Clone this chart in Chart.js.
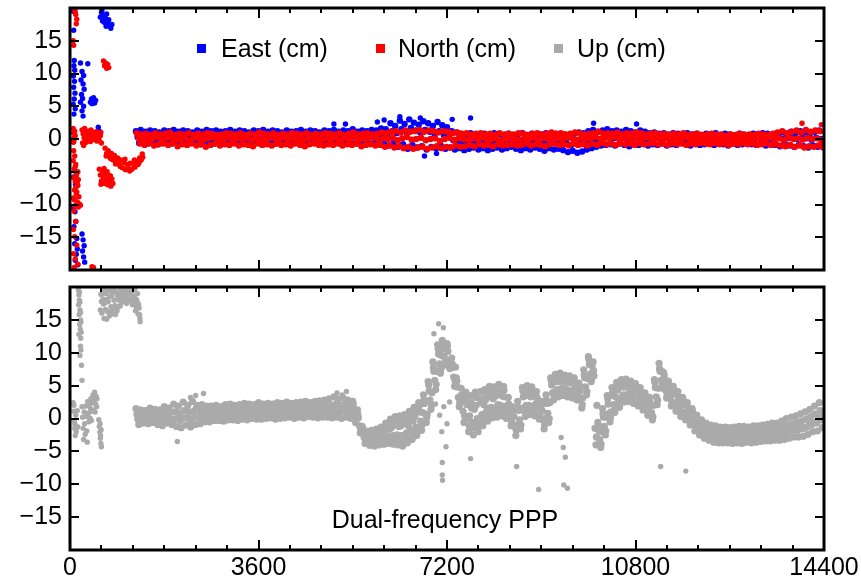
<!DOCTYPE html>
<html>
<head>
<meta charset="utf-8">
<script src="https://cdn.jsdelivr.net/npm/chart.js@4.4.1/dist/chart.umd.min.js"></script>
<style>
  body { margin: 0; background: #fff; }
  #wrap { position: relative; width: 861px; height: 582px; }
  canvas { position: absolute; left: 0; }
  #topChart { top: 0; }
  #bottomChart { top: 280px; }
</style>
</head>
<body>
<div id="wrap">
  <canvas id="topChart" width="861" height="280"></canvas>
  <canvas id="bottomChart" width="861" height="302"></canvas>
</div>
<script>
// Axis ticks
const xTicks = [0, 3600, 7200, 10800, 14400];
const yTicks = [-15, -10, -5, 0, 5, 10, 15];

// Series names and colours
const eastName = 'East (cm)';
const northName = 'North (cm)';
const upName = 'Up (cm)';
const eastColor = '#0000ff';
const northColor = '#ff0000';
const upColor = '#aaaaaa';

// Regular epochs (s) for the converged part, every 90 s from 1260 s
const epochStart = 1260;
const epochStep = 90;

// East: upper edge, middle, lower edge
const eastHi = [
  1.2, 1.4, 1.1, 1.3, 1.2, 1.0, 1.3, 1.2, 1.4, 1.1,
  1.3, 1.2, 1.0, 1.3, 1.1, 1.4, 1.2, 1.3, 1.1, 1.2,
  1.4, 1.1, 1.3, 1.2, 1.0, 1.3, 1.2, 1.4, 1.1, 1.3,
  1.2, 1.0, 1.3, 1.1, 1.2, 1.4, 1.1, 1.3, 1.2, 1.0,
  1.3, 1.2, 1.4, 1.1, 1.3, 1.2, 1.5, 1.1, 1.3, 1.2,
  1.4, 1.3, 1.6, 1.5, 2.4, 2.0, 2.8, 2.3, 3.0, 2.5,
  2.2, 2.7, 2.4, 2.0, 2.6, 2.1, 1.8, 1.2, 1.0, 0.8,
  0.6, 0.9, 0.7, 0.5, 0.8, 0.6, 0.9, 0.7, 0.5, 0.8,
  0.6, 0.7, 0.9, 0.6, 0.8, 0.5, 0.7, 0.9, 0.6, 0.8,
  0.5, 0.7, 0.6, 0.8, 1.0, 0.9, 1.2, 1.4, 1.1, 1.3,
  1.5, 1.2, 1.3, 1.1, 1.4, 1.2, 1.0, 1.3, 1.1, 0.9,
  1.0, 0.8, 0.9, 0.7, 0.9, 0.8, 0.6, 0.9, 0.7, 0.8,
  0.6, 0.8, 0.7, 0.9, 0.6, 0.8, 0.7, 0.5, 0.8, 0.7,
  0.6, 0.8, 0.7, 0.9, 0.8, 0.6, 0.9, 1.0, 0.8, 1.1,
  0.9, 1.2, 1.0, 0.8, 1.1, 1.3
];
const eastMid = [
  0.3, 0.5, 0.2, 0.4, 0.1, 0.3, 0.6, 0.2, 0.4, 0.3,
  0.2, 0.4, 0.5, 0.1, 0.3, 0.4, 0.2, 0.5, 0.3, 0.1,
  0.4, 0.3, 0.2, 0.5, 0.3, 0.4, 0.1, 0.3, 0.5, 0.2,
  0.3, 0.4, 0.2, 0.3, 0.5, 0.1, 0.4, 0.3, 0.2, 0.4,
  0.3, 0.5, 0.2, 0.4, 0.3, 0.1, 0.4, 0.5, 0.3, 0.2,
  0.4, 0.3, 0.6, 0.5, 1.2, 0.9, 1.5, 1.1, 1.7, 1.3,
  1.0, 1.4, 1.1, 0.8, 1.2, 0.6, 0.3, -0.2, -0.4, -0.3,
  -0.5, -0.3, -0.6, -0.4, -0.5, -0.7, -0.4, -0.6, -0.3, -0.5,
  -0.4, -0.6, -0.5, -0.3, -0.6, -0.4, -0.5, -0.7, -0.4, -0.6,
  -0.8, -0.6, -0.9, -0.7, -0.5, -0.6, -0.3, -0.1, 0.0, 0.2,
  0.3, 0.1, 0.4, 0.2, 0.0, 0.3, 0.1, 0.2, 0.0, 0.1,
  0.2, 0.0, 0.1, -0.1, 0.2, 0.0, 0.1, -0.1, 0.0, 0.2,
  0.1, -0.1, 0.0, 0.2, 0.1, -0.1, 0.0, 0.1, -0.1, 0.0,
  0.1, 0.0, 0.2, -0.1, 0.0, 0.1, 0.2, 0.0, 0.1, 0.2,
  0.0, 0.2, 0.1, -0.1, 0.2, 0.0
];
const eastLo = [
  -0.6, -0.4, -0.7, -0.5, -0.8, -0.6, -0.4, -0.7, -0.5, -0.6,
  -0.7, -0.5, -0.6, -0.8, -0.4, -0.6, -0.7, -0.5, -0.6, -0.8,
  -0.5, -0.7, -0.6, -0.4, -0.7, -0.5, -0.8, -0.6, -0.5, -0.7,
  -0.6, -0.4, -0.7, -0.6, -0.5, -0.8, -0.6, -0.5, -0.7, -0.6,
  -0.5, -0.7, -0.6, -0.8, -0.5, -0.6, -0.7, -0.4, -0.6, -0.7,
  -0.6, -0.8, -0.7, -1.0, -0.6, -1.2, -0.8, -1.5, -0.9, -1.3,
  -1.1, -1.6, -1.2, -1.4, -1.0, -1.5, -1.3, -1.6, -1.4, -1.7,
  -1.5, -1.3, -1.6, -1.4, -1.7, -1.5, -1.3, -1.6, -1.4, -1.2,
  -1.5, -1.7, -1.4, -1.6, -1.3, -1.5, -1.8, -1.4, -1.6, -1.5,
  -1.7, -2.0, -1.8, -2.1, -1.9, -1.6, -1.4, -1.2, -1.0, -0.9,
  -0.8, -1.0, -0.7, -0.9, -1.1, -0.8, -0.9, -0.7, -1.0, -0.8,
  -0.9, -0.7, -1.0, -0.8, -0.9, -0.6, -0.8, -1.0, -0.7, -0.9,
  -0.8, -0.7, -0.9, -0.6, -0.8, -1.0, -0.7, -0.9, -0.8, -0.6,
  -0.8, -0.9, -0.7, -1.0, -0.8, -0.9, -1.1, -0.8, -1.0, -1.2,
  -0.9, -1.1, -1.3, -1.0, -1.2, -1.1
];

// North, same epochs
const northHi = [
  0.9, 0.7, 0.8, 0.6, 0.9, 0.7, 0.8, 1.0, 0.6, 0.8,
  0.7, 0.9, 0.6, 0.8, 0.7, 0.9, 0.8, 0.6, 0.7, 0.9,
  0.8, 0.7, 0.9, 0.6, 0.8, 0.7, 1.0, 0.8, 0.7, 0.9,
  0.6, 0.8, 0.7, 0.9, 0.8, 0.7, 0.9, 0.6, 0.8, 0.7,
  0.9, 0.8, 0.7, 0.9, 0.6, 0.8, 1.0, 0.7, 0.8, 0.9,
  0.7, 0.8, 1.0, 0.9, 1.1, 1.2, 1.0, 1.3, 1.1, 1.2,
  1.4, 1.1, 1.3, 1.2, 1.0, 1.2, 1.1, 0.9, 1.0, 0.8,
  0.9, 0.7, 0.8, 0.9, 0.7, 0.8, 0.6, 0.9, 0.7, 0.8,
  0.7, 0.9, 0.8, 0.6, 0.8, 0.9, 0.7, 0.8, 1.0, 0.8,
  0.9, 0.7, 0.8, 1.0, 0.9, 0.7, 0.8, 0.9, 1.1, 0.8,
  0.9, 0.8, 1.0, 0.7, 0.9, 0.8, 1.0, 0.9, 0.7, 0.8,
  0.9, 0.7, 0.8, 0.6, 0.8, 0.7, 0.9, 0.6, 0.7, 0.8,
  0.6, 0.7, 0.8, 0.6, 0.7, 0.5, 0.7, 0.6, 0.8, 0.6,
  0.7, 0.6, 0.8, 0.7, 0.6, 0.8, 1.0, 1.2, 0.9, 1.1,
  1.3, 1.0, 1.4, 1.1, 1.3, 1.2
];
const northMid = [
  0.2, -0.1, 0.1, 0.0, 0.3, -0.2, 0.1, 0.2, -0.1, 0.0,
  0.1, -0.2, 0.2, 0.0, -0.1, 0.1, 0.3, -0.1, 0.0, 0.2,
  -0.1, 0.1, 0.0, 0.2, -0.2, 0.1, 0.0, -0.1, 0.2, 0.1,
  0.0, 0.2, -0.1, 0.1, 0.0, -0.2, 0.1, 0.2, 0.0, -0.1,
  0.1, 0.0, 0.2, -0.1, 0.1, 0.0, 0.2, -0.1, 0.0, 0.1,
  0.2, -0.1, 0.1, 0.0, 0.2, -0.2, 0.1, 0.3, -0.1, 0.0,
  0.2, -0.2, 0.0, 0.1, -0.3, 0.0, 0.2, -0.1, 0.1, 0.0,
  -0.1, 0.1, 0.0, 0.2, -0.1, 0.0, 0.1, -0.2, 0.0, 0.1,
  0.0, -0.1, 0.1, 0.0, 0.2, -0.1, 0.1, 0.0, 0.2, 0.1,
  0.0, 0.2, 0.1, -0.1, 0.2, 0.0, 0.1, 0.3, 0.0, 0.2,
  0.1, 0.3, 0.0, 0.2, 0.1, 0.0, 0.2, 0.1, 0.3, 0.0,
  0.2, 0.0, 0.1, -0.1, 0.1, 0.0, 0.2, -0.1, 0.0, 0.1,
  -0.1, 0.0, 0.1, -0.1, 0.0, 0.1, -0.2, 0.0, 0.1, -0.1,
  0.0, 0.1, -0.1, 0.0, 0.2, 0.0, 0.1, -0.1, 0.2, 0.0,
  0.1, -0.1, 0.2, 0.0, 0.1, -0.2
];
const northLo = [
  -0.7, -0.9, -0.6, -1.0, -0.8, -0.7, -0.9, -0.6, -1.1, -0.8,
  -0.9, -0.7, -1.0, -0.8, -1.2, -0.9, -0.7, -1.0, -0.8, -0.9,
  -0.7, -1.0, -0.8, -0.9, -1.1, -0.7, -0.9, -0.8, -1.0, -0.7,
  -0.9, -0.8, -1.0, -0.7, -0.9, -1.1, -0.8, -0.7, -0.9, -1.0,
  -0.8, -0.9, -0.7, -1.0, -0.8, -0.9, -0.7, -1.1, -0.9, -0.8,
  -1.0, -0.9, -1.2, -1.0, -1.3, -1.1, -1.4, -1.2, -1.5, -1.3,
  -1.2, -1.5, -1.3, -1.1, -1.4, -1.2, -1.3, -1.0, -1.2, -1.1,
  -0.9, -1.1, -0.8, -1.0, -0.9, -1.1, -0.8, -1.0, -0.9, -0.8,
  -1.0, -0.9, -0.7, -1.0, -0.8, -0.9, -1.1, -0.8, -0.7, -0.9,
  -0.8, -1.0, -0.7, -0.9, -0.8, -1.0, -0.7, -0.9, -0.6, -0.8,
  -0.7, -0.9, -0.6, -0.8, -0.7, -0.9, -0.6, -0.8, -0.7, -0.6,
  -0.8, -0.7, -0.9, -0.6, -0.8, -0.7, -0.9, -0.7, -0.8, -0.6,
  -0.7, -0.8, -0.6, -0.8, -0.7, -0.9, -0.7, -0.8, -0.6, -0.8,
  -0.7, -0.9, -0.8, -0.7, -0.9, -0.8, -1.0, -1.1, -0.9, -1.2,
  -1.0, -1.3, -1.1, -1.2, -1.0, -1.3
];

// Up, five readings across the band at each epoch
const upA = [
  1.5, 1.3, 1.2, 1.6, 1.4, 1.3, 1.8, 1.6, 2.2, 1.9,
  2.5, 2.0, 2.6, 2.0, 2.1, 1.9, 1.9, 2.0, 1.8, 2.1,
  2.2, 2.0, 2.1, 2.3, 2.2, 2.1, 2.4, 2.2, 2.3, 2.2,
  2.4, 2.3, 2.5, 2.3, 2.4, 2.5, 2.6, 2.4, 2.6, 2.7,
  2.8, 3.0, 3.3, 3.0, 3.1, 2.8, 2.6, 1.3, -1.2, -1.9,
  -1.8, -1.6, -1.3, -0.7, -0.1, 0.3, 0.4, 0.6, 1.1, 1.7,
  2.4, 3.6, 5.6, 8.6, 11.2, 11.9, 11.4, 9.2, 6.2, 4.6,
  4.0, 3.5, 4.0, 4.1, 4.4, 4.9, 4.8, 5.2, 4.9, 3.2,
  1.6, 2.6, 4.7, 5.0, 4.8, 4.1, 2.6, 3.6, 6.2, 6.7,
  6.9, 6.6, 6.5, 6.2, 5.4, 7.4, 9.4, 8.6, -0.6, 1.5,
  3.5, 4.7, 5.5, 5.9, 6.0, 5.7, 5.3, 4.7, 3.9, 3.2,
  5.9, 8.4, 6.9, 5.7, 4.9, 4.1, 3.2, 2.4, 1.5, 0.5,
  -0.2, -0.7, -1.0, -1.1, -1.3, -1.3, -1.4, -1.3, -1.2, -1.2,
  -1.3, -1.1, -1.1, -1.0, -0.9, -0.7, -0.7, -0.4, 0.0, 0.2,
  0.4, 0.7, 1.0, 1.4, 1.9, 2.4
];
const upB = [
  0.6, 0.9, 0.5, 0.7, 0.8, 0.6, 0.8, 0.9, 1.0, 0.7,
  1.2, 0.9, 1.1, 1.2, 1.2, 1.0, 1.2, 1.3, 1.1, 1.2,
  1.4, 1.2, 1.5, 1.3, 1.5, 1.4, 1.4, 1.6, 1.6, 1.5,
  1.5, 1.7, 1.7, 1.6, 1.8, 1.6, 1.8, 1.7, 1.8, 1.9,
  1.9, 2.0, 2.1, 2.0, 2.1, 1.9, 1.5, 0.1, -2.0, -2.6,
  -2.7, -2.4, -2.1, -1.7, -1.4, -1.0, -1.1, -0.8, -0.2, 0.3,
  1.0, 2.3, 4.2, 7.2, 9.8, 10.6, 10.2, 7.8, 4.8, 2.9,
  2.1, 1.6, 2.0, 2.4, 2.8, 3.3, 3.4, 3.6, 3.3, 1.7,
  0.3, 1.2, 3.3, 3.5, 3.4, 2.7, 1.2, 2.3, 5.1, 5.6,
  5.8, 5.6, 5.4, 5.1, 4.2, 6.2, 8.2, 6.5, -1.8, 0.2,
  2.2, 3.5, 4.3, 4.8, 4.9, 4.6, 4.2, 3.6, 2.8, 2.1,
  4.7, 7.2, 5.7, 4.5, 3.7, 2.9, 2.1, 1.3, 0.4, -0.5,
  -1.1, -1.6, -1.8, -1.9, -2.1, -2.0, -2.2, -2.1, -2.1, -2.0,
  -2.1, -2.0, -1.9, -1.8, -1.8, -1.6, -1.5, -1.3, -1.0, -0.8,
  -0.6, -0.4, -0.1, 0.3, 0.7, 1.2
];
const upC = [
  -0.1, 0.1, -0.3, 0.0, -0.2, -0.3, 0.1, 0.0, -0.1, -0.3,
  0.1, -0.1, 0.2, 0.1, 0.3, 0.4, 0.4, 0.5, 0.4, 0.6,
  0.6, 0.5, 0.7, 0.6, 0.8, 0.6, 0.8, 0.7, 0.9, 0.7,
  0.9, 0.8, 1.0, 0.8, 0.9, 1.0, 1.0, 0.9, 1.0, 1.0,
  1.1, 1.0, 1.1, 1.0, 1.2, 0.9, 0.4, -1.1, -2.9, -3.4,
  -3.3, -3.2, -3.0, -2.7, -2.6, -2.5, -2.6, -2.2, -1.8, -1.3,
  -0.4, 0.7, 2.8, 5.8, 8.3, 9.4, 8.8, 6.3, 3.2, 1.1,
  0.0, -0.6, 0.0, 0.6, 1.2, 1.7, 1.6, 2.0, 1.7, 0.3,
  -1.3, -0.2, 1.7, 2.0, 1.8, 1.3, -0.2, 0.8, 3.9, 4.4,
  4.6, 4.4, 4.2, 3.9, 2.8, 4.8, 6.8, -1.5, -3.2, -1.2,
  0.8, 2.1, 2.9, 3.6, 3.7, 3.4, 3.0, 2.4, 1.6, 0.9,
  3.3, 5.8, 4.3, 3.1, 2.3, 1.5, 0.9, 0.1, -0.8, -1.5,
  -2.1, -2.4, -2.8, -2.9, -2.9, -3.0, -3.0, -2.9, -2.9, -2.8,
  -2.9, -2.8, -2.7, -2.6, -2.6, -2.4, -2.5, -2.3, -2.0, -1.8,
  -1.8, -1.6, -1.3, -0.9, -0.7, -0.2
];
const upD = [
  -0.9, -0.7, -0.8, -0.6, -0.9, -1.1, -0.7, -0.9, -1.2, -1.4,
  -1.0, -1.3, -0.9, -0.8, -0.5, -0.5, -0.3, -0.3, -0.4, -0.2,
  -0.2, -0.3, -0.1, -0.2, 0.0, -0.1, -0.1, 0.0, 0.1, -0.1,
  0.0, 0.1, 0.2, 0.0, 0.2, 0.1, 0.3, 0.2, 0.1, 0.2,
  0.2, 0.1, 0.2, 0.0, 0.2, 0.0, -0.6, -2.2, -3.8, -4.1,
  -4.2, -4.0, -3.9, -3.8, -3.9, -4.0, -4.2, -3.7, -3.2, -2.6,
  -1.8, -0.6, 1.4, 4.4, 6.9, 8.1, 7.6, 4.9, 1.8, -0.6,
  -2.0, -2.5, -2.0, -1.1, -0.4, 0.1, 0.2, 0.4, 0.0, -1.1,
  -2.6, -1.6, 0.3, 0.6, 0.4, -0.1, -1.6, -0.6, 2.8, 3.3,
  3.5, 3.3, 3.1, 2.8, 1.6, 3.6, 5.6, -4.0, -4.4, -2.5,
  -0.5, 0.9, 1.7, 2.5, 2.6, 2.3, 1.9, 1.3, 0.5, -0.2,
  2.1, 4.6, 3.1, 1.9, 1.1, 0.3, -0.2, -1.0, -1.9, -2.5,
  -3.0, -3.3, -3.6, -3.7, -3.7, -3.7, -3.8, -3.7, -3.8, -3.6,
  -3.7, -3.6, -3.5, -3.4, -3.4, -3.3, -3.3, -3.2, -3.0, -2.8,
  -2.8, -2.7, -2.4, -2.0, -1.9, -1.4
];
const upE = [
  0.5, 0.0, 0.6, 0.2, -0.3, 0.7, 0.3, -0.2, 0.9, 0.1,
  1.3, -0.4, 1.6, 0.4, 1.0, 0.2, 1.3, 0.6, 1.2, 0.5,
  1.4, 0.6, 1.1, 1.5, 0.7, 1.3, 0.8, 1.6, 1.0, 1.4,
  0.9, 1.5, 1.2, 1.7, 0.8, 1.6, 1.1, 1.8, 1.3, 1.0,
  1.9, 1.2, 2.4, 1.3, 1.8, 1.1, 0.7, -1.2, -2.4, -2.8,
  -3.5, -2.5, -2.9, -1.6, -2.8, -1.2, -3.0, -1.1, -0.4, -1.4,
  0.9, 0.6, 3.9, 7.2, 9.6, 10.9, 8.7, 7.8, 3.3, 2.6,
  0.4, 1.4, -0.5, 2.1, 1.6, 3.0, 2.1, 3.4, 2.0, 1.8,
  -1.0, 1.3, 2.0, 3.3, 2.2, 2.6, 0.0, 2.4, 4.0, 5.6,
  4.7, 5.5, 4.3, 5.0, 3.1, 6.1, 8.0, 2.0, -2.0, 0.2,
  1.0, 3.3, 3.1, 4.8, 3.9, 4.5, 3.2, 3.5, 1.8, 2.0,
  4.6, 7.1, 4.4, 4.3, 2.5, 2.7, 1.0, 1.2, -0.6, -0.7,
  -1.3, -2.4, -2.0, -2.8, -2.2, -2.9, -2.3, -2.8, -2.1, -2.7,
  -2.2, -2.7, -2.0, -2.5, -1.9, -2.3, -1.7, -2.1, -1.2, -1.6,
  -0.9, -1.4, -0.4, -0.6, 0.4, 0.8
];
// Extra readings where the Up band is wide (epoch index 46 to 118)
const upWideStart = 46;
const upF = [
  2.2, 0.6, -1.5, -2.4, -2.1, -2.1, -1.5, -1.3, -0.6, -0.5,
  -0.1, -0.2, 0.7, 0.9, 1.9, 2.8, 5.1, 7.7, 10.6, 11.0,
  11.0, 8.3, 5.7, 3.6, 3.2, 2.4, 3.2, 3.0, 3.8, 3.9,
  4.3, 4.2, 4.3, 2.2, 1.2, 1.7, 4.2, 4.0, 4.3, 3.2,
  2.1, 2.8, 5.8, 5.9, 6.5, 5.9, 6.1, 5.5, 5.0, 6.6,
  9.0, 7.3, -1.0, 0.7, 3.0, 3.9, 5.1, 5.1, 5.7, 5.0,
  4.9, 4.0, 3.5, 2.4, 5.5, 7.6, 6.5, 4.9, 4.5, 3.3,
  2.9, 1.6, 1.1
];
const upG = [
  -0.2, -1.8, -3.2, -3.9, -3.6, -3.7, -3.3, -3.4, -3.1, -3.4,
  -3.3, -3.1, -2.4, -2.0, -1.0, 0.2, 2.0, 5.2, 7.5, 8.8,
  8.1, 5.7, 2.4, 0.4, -1.1, -1.4, -1.1, -0.2, 0.5, 0.8,
  1.0, 1.1, 0.9, -0.5, -1.8, -1.0, 0.9, 1.4, 1.0, 0.6,
  -1.0, 0.0, 3.4, 3.8, 4.0, 3.9, 3.6, 3.4, 2.1, 4.1,
  6.1, -2.8, -3.9, -1.9, 0.1, 1.5, 2.3, 3.0, 3.2, 2.8,
  2.5, 1.8, 1.1, 0.3, 2.8, 5.1, 3.6, 2.5, 1.7, 0.9,
  0.3, -0.5, -1.3
];

// Start-up (first ~20 min) and stray points, [time s, value cm]
const eastEarly = [
  [60, 19.5], [70, 16.6], [80, 12.0], [75, 11.2], [90, 10.5], [65, 9.6], [85, 8.8], [70, 7.9],
  [95, 7.0], [80, 6.1], [60, 5.3], [100, 4.6], [75, 3.8], [90, -4.9], [70, -5.8], [105, -6.9],
  [80, -9.2], [65, -10.5], [95, -11.1], [110, -12.6], [75, -13.4], [130, -15.2], [90, -16.0],
  [140, -16.8], [120, -17.6], [100, -18.5], [150, -19.2],
  [200, 11.6], [230, 10.3], [260, 9.7], [210, 9.0], [250, 8.4], [270, 7.6], [220, 6.8],
  [240, 6.2], [200, 5.6], [260, 5.0], [230, 4.3], [250, 3.5], [340, 11.5],
  [230, -14.5], [250, -15.4], [270, -16.3], [240, -17.1], [260, -18.0], [280, -18.8],
  [390, 5.6], [410, 6.1], [430, 5.8], [450, 6.3], [470, 5.5], [490, 5.9], [420, 5.4], [460, 6.0],
  [540, 1.8], [560, 1.2],
  [580, 18.6], [600, 19.3], [620, 18.0], [640, 18.9], [660, 17.8], [680, 18.4], [700, 19.1],
  [720, 17.6], [740, 18.2], [760, 17.3], [780, 16.9], [800, 17.5], [610, 19.6], [690, 17.2]
];
const eastStray = [
  [5260, 2.3], [6690, 3.2], [7650, 3.2], [6770, -2.6], [6450, -1.4], [10000, 2.4], [10820, 2.3],
  [5040, 2.3], [5870, 2.6], [6000, 2.9], [6300, 3.4], [7300, 3.0], [7000, -2.2]
];
const northEarly = [
  [90, 19.8], [110, 19.0], [130, 18.3], [120, 17.6], [100, 19.4], [60, 15.0], [70, 14.3],
  [60, 1.6], [70, 0.9], [80, 0.2], [65, -0.5], [90, 1.2], [75, -0.3], [100, 0.5],
  [70, -1.8], [90, -2.6], [60, -3.3], [110, -3.9], [80, -4.6], [130, -5.2], [70, -5.9],
  [100, -6.5], [150, -7.1], [85, -7.8], [120, -8.4], [60, -9.0], [140, -9.6], [95, -10.2],
  [170, -8.8], [160, -10.4], [180, -9.9], [200, -10.1], [75, -11.0], [110, -12.6], [65, -13.8],
  [90, -14.9], [130, -16.2], [70, -17.5], [100, -18.3], [150, -19.1], [80, -19.6],
  [100, -4.2], [120, -5.6], [140, -6.8], [110, -7.4], [130, -8.1], [90, -9.3], [150, -5.0], [160, -6.2],
  [230, 1.4], [240, -0.6], [250, 0.8], [260, -1.0], [270, 0.2], [280, 1.6], [290, -0.3], [300, 0.9],
  [320, 0.3], [340, 1.2], [360, -0.2], [380, 0.7], [400, 1.4], [420, 0.1], [440, 0.9], [460, -0.1],
  [480, 0.6], [500, 1.1], [520, 0.2], [540, 0.8], [560, -0.3], [580, 0.5], [600, -0.6], [310, -0.5],
  [350, 0.6], [390, -0.4], [430, 0.5], [470, 1.0], [510, -0.3], [550, 0.3], [590, 1.0],
  [420, -19.5], [450, -19.6],
  [560, -4.6], [580, -5.5], [600, -6.4], [620, -4.9], [640, -5.8], [660, -6.8], [680, -5.3],
  [700, -6.2], [720, -7.0], [740, -5.9], [760, -6.6], [780, -7.2], [800, -6.1], [820, -6.8],
  [590, -6.9], [650, -4.5], [710, -5.0], [770, -5.6],
  [640, 11.9], [660, 11.2], [680, 11.6], [700, 10.8], [720, 11.4], [740, 10.9],
  [670, -1.4], [700, -2.2], [730, -1.8], [760, -2.8], [790, -2.2], [820, -3.2], [850, -2.5],
  [880, -3.5], [910, -2.9], [940, -3.9], [970, -3.2], [1000, -4.4], [1030, -3.6], [1060, -4.7],
  [1090, -3.9], [1120, -4.5], [1150, -3.7], [1180, -4.6], [1210, -3.8], [1240, -4.3], [1270, -3.4],
  [1300, -3.9], [1330, -2.9], [1360, -3.2], [1380, -2.3], [1390, -2.8], [690, -2.6], [780, -3.0],
  [870, -3.8], [960, -4.2], [1050, -3.1], [1140, -4.9], [1230, -3.2], [1320, -3.6]
];
const northStray = [[13980, 2.4], [14350, 2.2]];
const upEarly = [
  [160, 19.6], [170, 18.8], [180, 18.0], [165, 17.3], [190, 16.5], [175, 15.8], [200, 15.0],
  [185, 14.3], [195, 13.6], [170, 12.8], [205, 12.2], [180, 19.2], [190, 17.7], [200, 16.1],
  [210, 14.7], [215, 13.1], [200, 11.0], [210, 10.4], [190, 9.6], [220, 8.1], [230, 5.8],
  [60, 2.4], [70, 1.1], [80, -0.4], [90, -1.5], [100, -2.6], [110, 0.5], [75, 2.0], [95, -0.9],
  [120, -2.0], [140, 1.2], [150, -1.3],
  [230, 1.8], [240, 0.2], [250, -1.5], [260, -3.2], [270, 1.0], [280, -0.8], [290, -2.4],
  [300, 1.9], [310, 0.3], [320, -1.9], [330, -3.6], [340, 2.6], [350, 0.8], [360, -0.5],
  [370, 2.0], [380, 0.1], [390, 1.5], [400, 3.0], [410, -0.3], [420, 1.1], [430, 2.4],
  [440, 3.6], [450, 1.3], [460, 2.8], [470, 4.0], [480, 1.0], [490, 2.2], [500, 3.4],
  [510, 1.8], [515, 3.0],
  [550, -0.2], [560, -1.2], [570, -2.1], [580, -3.0], [590, -3.8], [600, -4.3], [575, -0.8],
  [585, -2.6], [595, -1.7],
  [580, 16.5], [600, 17.8], [620, 19.0], [650, 15.2], [680, 16.6], [700, 18.1], [720, 19.5],
  [750, 15.6], [780, 17.0], [800, 18.7], [830, 15.9], [860, 17.2], [880, 19.2], [900, 16.4],
  [930, 18.0], [960, 17.1], [990, 19.3], [1010, 18.2], [1040, 19.6], [1070, 18.4], [1100, 19.1],
  [1130, 18.0], [1160, 19.4], [1190, 17.3], [1220, 18.6], [1250, 16.4], [1280, 17.9], [1300, 15.9],
  [1320, 16.8], [1340, 14.7], [640, 17.4], [760, 18.5], [870, 15.8], [1050, 17.8], [1180, 18.8],
  [1290, 19.0], [700, 15.1], [820, 19.6], [950, 19.8], [1240, 19.7],
  [590, 18.9], [610, 16.0], [630, 18.2], [660, 19.7], [670, 17.6], [690, 19.0], [710, 16.3],
  [730, 17.8], [740, 19.9], [770, 16.2], [790, 19.3], [810, 16.6], [840, 18.0], [850, 19.5],
  [890, 16.9], [910, 18.6], [920, 17.0], [940, 19.0], [970, 18.5], [980, 17.6], [1000, 19.9],
  [1020, 17.9], [1030, 18.8], [1060, 19.2], [1080, 17.5], [1090, 19.8], [1110, 18.6], [1120, 19.5],
  [1140, 18.9], [1150, 17.9], [1170, 19.7], [1200, 18.1], [1210, 19.5], [1230, 17.4], [1260, 18.2],
  [1270, 16.9], [1310, 17.4], [1330, 15.8], [1335, 15.2]
];
const upStray = [
  [7040, 14.4], [7130, 13.8], [6950, 12.9], [7110, -6.7], [7110, -8.6], [7115, -9.4],
  [7650, -6.1], [8530, -7.3], [8950, -10.8], [9430, -10.1], [9500, -10.6], [11280, -7.3],
  [11760, -8.0], [9460, -5.9], [2050, -3.5], [9380, -2.9], [9420, -4.4],
  [6980, 2.2], [7060, 0.5], [7140, 1.8], [7200, -0.8], [7250, 2.5], [7100, -2.0], [7180, -4.3],
  [5100, 3.9], [5200, 3.6], [5280, 4.1], [2400, 3.5], [2550, 3.8], [2300, 3.2]
];
const panelLabel = 'Dual-frequency PPP';

const fontFamily = '"Liberation Sans", Arial, Helvetica, sans-serif';

function bandPoints(values, offset, startIndex) {
    const s = startIndex || 0;
    return values.map((v, i) => ({ x: epochStart + epochStep * (i + s) + offset, y: v }));
}

function pairPoints(pairs) {
    return pairs.map(p => ({ x: p[0], y: p[1] }));
}

function dotSet(label, data, color, order, radius) {
    return {
        label: label,
        data: data,
        backgroundColor: color,
        borderWidth: 0,
        pointRadius: radius,
        pointHoverRadius: radius,
        showLine: false,
        clip: 0,
        order: order
    };
}

function minusSign(v) {
    return String(v).replace('-', '\u2212');
}

// Frame and inward ticks on all four sides
const frameTicks = {
    id: 'frameTicks',
    afterDatasetsDraw(chart) {
        const { ctx, chartArea: a, scales } = chart;
        const x = scales.x, y = scales.y;
        ctx.save();
        ctx.strokeStyle = '#000';
        ctx.lineWidth = 2;
        ctx.beginPath();
        for (let v = xTicks[0]; v <= xTicks[xTicks.length - 1]; v += 600) {
            const px = Math.round(x.getPixelForValue(v));
            const len = xTicks.includes(v) ? 10 : 5;
            ctx.moveTo(px, a.bottom); ctx.lineTo(px, a.bottom - len);
            ctx.moveTo(px, a.top); ctx.lineTo(px, a.top + len);
        }
        yTicks.forEach(v => {
            const py = Math.round(y.getPixelForValue(v));
            ctx.moveTo(a.left, py); ctx.lineTo(a.left + 9, py);
            ctx.moveTo(a.right, py); ctx.lineTo(a.right - 9, py);
        });
        ctx.stroke();
        ctx.lineWidth = 3;
        ctx.strokeRect(a.left, a.top, a.right - a.left, a.bottom - a.top);
        ctx.restore();
    }
};

// Legend drawn inside the upper panel
const insideLegend = {
    id: 'insideLegend',
    afterDraw(chart) {
        const ctx = chart.ctx;
        const items = [
            { name: eastName, color: eastColor, box: 197, text: 221 },
            { name: northName, color: northColor, box: 376, text: 398 },
            { name: upName, color: upColor, box: 554, text: 577 }
        ];
        ctx.save();
        ctx.font = '25px ' + fontFamily;
        ctx.textBaseline = 'alphabetic';
        items.forEach(it => {
            ctx.fillStyle = it.color;
            ctx.fillRect(it.box, 44, 9, 9);
            ctx.fillStyle = '#000';
            ctx.fillText(it.name, it.text, 57);
        });
        ctx.restore();
    }
};

const panelText = {
    id: 'panelText',
    afterDraw(chart) {
        const ctx = chart.ctx;
        const a = chart.chartArea;
        ctx.save();
        ctx.font = '25px ' + fontFamily;
        ctx.fillStyle = '#000';
        ctx.textAlign = 'center';
        ctx.textBaseline = 'alphabetic';
        ctx.fillText(panelLabel, (a.left + a.right) / 2 - 2, 248);
        ctx.restore();
    }
};

function baseScales(showX) {
    return {
        x: {
            type: 'linear',
            min: xTicks[0],
            max: xTicks[xTicks.length - 1],
            grid: { display: false, drawTicks: false },
            border: { display: false },
            ticks: {
                display: showX,
                stepSize: 3600,
                autoSkip: false,
                maxRotation: 0,
                padding: 3,
                color: '#000',
                font: { size: 25, family: fontFamily },
                callback: v => String(v)
            },
            afterFit(scale) {
                scale.height = showX ? 32 : 10;
                scale.paddingLeft = 0;
                scale.paddingRight = 0;
            }
        },
        y: {
            type: 'linear',
            min: -20,
            max: 20,
            grid: { display: false, drawTicks: false },
            border: { display: false },
            ticks: {
                stepSize: 5,
                autoSkip: false,
                padding: 8,
                color: '#000',
                font: { size: 25, family: fontFamily },
                callback: v => (Math.abs(v) >= 20 ? '' : minusSign(v))
            },
            afterFit(scale) {
                scale.width = 70;
                scale.paddingTop = 0;
                scale.paddingBottom = 0;
            }
        }
    };
}

const commonOptions = {
    responsive: false,
    animation: false,
    events: [],
    plugins: { legend: { display: false }, tooltip: { enabled: false } }
};

const bandR = 3.2;
const upR = 3.6;
const looseR = 2.7;

new Chart(document.getElementById('topChart').getContext('2d'), {
    type: 'scatter',
    data: {
        datasets: [
            dotSet(eastName, pairPoints(eastEarly), eastColor, 1, looseR),
            dotSet(eastName, bandPoints(eastHi, 0), eastColor, 1, bandR),
            dotSet(eastName, bandPoints(eastMid, 30), eastColor, 1, bandR),
            dotSet(eastName, bandPoints(eastLo, 60), eastColor, 1, bandR),
            dotSet(eastName, pairPoints(eastStray), eastColor, 1, looseR),
            dotSet(northName, pairPoints(northEarly), northColor, 0, looseR),
            dotSet(northName, bandPoints(northHi, 15), northColor, 0, bandR),
            dotSet(northName, bandPoints(northMid, 45), northColor, 0, bandR),
            dotSet(northName, bandPoints(northLo, 75), northColor, 0, bandR),
            dotSet(northName, pairPoints(northStray), northColor, 0, looseR)
        ]
    },
    options: Object.assign({}, commonOptions, {
        layout: { padding: { left: 0, right: 37, top: 8, bottom: 0 } },
        scales: baseScales(false)
    }),
    plugins: [frameTicks, insideLegend]
});

new Chart(document.getElementById('bottomChart').getContext('2d'), {
    type: 'scatter',
    data: {
        datasets: [
            dotSet(upName, pairPoints(upEarly), upColor, 0, looseR),
            dotSet(upName, bandPoints(upA, 0), upColor, 0, upR),
            dotSet(upName, bandPoints(upF, 9, upWideStart), upColor, 0, upR),
            dotSet(upName, bandPoints(upB, 18), upColor, 0, upR),
            dotSet(upName, bandPoints(upC, 36), upColor, 0, upR),
            dotSet(upName, bandPoints(upD, 54), upColor, 0, upR),
            dotSet(upName, bandPoints(upG, 63, upWideStart), upColor, 0, upR),
            dotSet(upName, bandPoints(upE, 72), upColor, 0, upR),
            dotSet(upName, pairPoints(upStray), upColor, 0, looseR)
        ]
    },
    options: Object.assign({}, commonOptions, {
        layout: { padding: { left: 0, right: 37, top: 7, bottom: 0 } },
        scales: baseScales(true)
    }),
    plugins: [frameTicks, panelText]
});
</script>
</body>
</html>
